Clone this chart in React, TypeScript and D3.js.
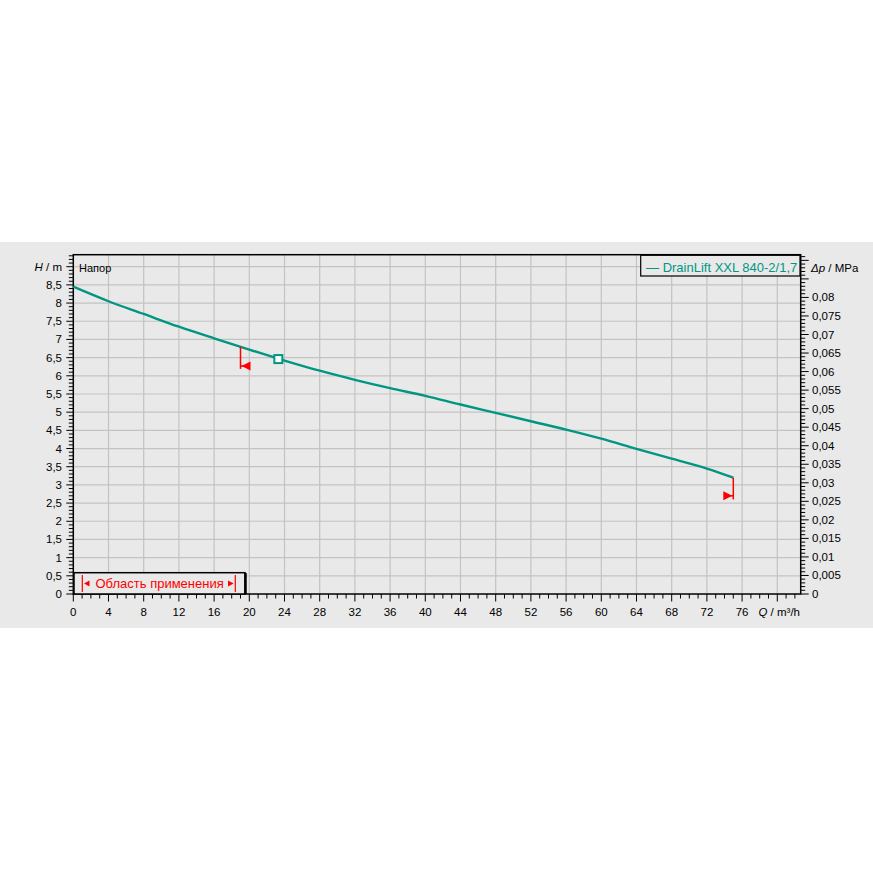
import * as React from "react";
import * as d3 from "d3";

// pump curve DrainLift XXL 840-2/1,7
const flowQ = [0, 4, 8, 12, 16, 20, 24, 28, 32, 36, 40, 44, 48, 52, 56, 60, 64, 68, 72, 75];
const headH = [8.45, 8.05, 7.7, 7.35, 7.03, 6.72, 6.42, 6.14, 5.89, 5.66, 5.45, 5.21, 4.98, 4.75, 4.52, 4.27, 3.99, 3.72, 3.45, 3.2];

const dutyPoint = { q: 23.3, h: 6.46 };
const limitLeft = { q: 19, hLow: 6.19, hArrow: 6.27 };
const limitRight = { q: 75, hLow: 2.6, hArrow: 2.7 };

const xMajor = d3.range(0, 81, 4);
const xMinor = d3.range(0, 83, 1);
const hMajor = d3.range(0, 8.51, 0.5);
const hMinor = d3.range(0, 9.31, 0.1);
const hGrid = d3.range(0.5, 9.01, 0.5);
const pMajor = d3.range(0, 0.0801, 0.005);
const pMinor = d3.range(0, 0.0911, 0.001);

const seriesName = "DrainLift XXL 840-2/1,7";
const rangeLabel = "Область применения";
const headTitle = "Напор";

const TEAL = "#009682";
const GRID = "#c3c3c3";
const BG = "#e9e9e9";
const FONT = "'Liberation Sans', Arial, sans-serif";

const fmt = (v: number, digits: number) => {
  const s = (+v.toFixed(digits)).toString();
  return s.replace(".", ",");
};

export default function App() {
  const left = 73.3, right = 800.7, top = 254.7, bottom = 594;
  const x = d3.scaleLinear().domain([0, 82.66]).range([left, right]);
  const y = d3.scaleLinear().domain([0, 9.33]).range([bottom, top]);
  const yP = (p: number) => y(p / 0.00981);

  const pts = flowQ.map((q, i) => [q, headH[i]] as [number, number]);
  const line = d3.line<[number, number]>().x(d => x(d[0])).y(d => y(d[1])).curve(d3.curveMonotoneX);

  const hAt = (q: number) => {
    const i = d3.bisectLeft(flowQ, q);
    if (i <= 0) return headH[0];
    const t = (q - flowQ[i - 1]) / (flowQ[i] - flowQ[i - 1]);
    return headH[i - 1] + t * (headH[i] - headH[i - 1]);
  };

  const lx = x(limitLeft.q);
  const rx = x(limitRight.q);
  const lay = y(limitLeft.hArrow);
  const ray = y(limitRight.hArrow);

  return (
    <svg width={873} height={873} style={{ position: "absolute", left: 0, top: 0, background: "#fff" }} fontFamily={FONT}>
      <rect x={0} y={242} width={873} height={386} fill={BG} />

      {/* grid */}
      <g stroke={GRID} strokeWidth={1.2}>
        {xMajor.filter(d => d > 0).map(d => (
          <line key={"gx" + d} x1={x(d)} x2={x(d)} y1={top} y2={bottom} />
        ))}
        {hGrid.map(d => (
          <line key={"gy" + d} x1={left} x2={right} y1={y(d)} y2={y(d)} />
        ))}
      </g>

      {/* frame */}
      <rect x={left} y={top} width={right - left} height={bottom - top} fill="none" stroke="#000" strokeWidth={1.5} />

      {/* left axis */}
      <g stroke="#000" strokeWidth={1}>
        {hMinor.map(d => {
          const major = Math.abs(d * 2 - Math.round(d * 2)) < 1e-6;
          return <line key={"hl" + d} x1={left - (major ? 7 : 4.5)} x2={left} y1={y(d)} y2={y(d)} />;
        })}
      </g>
      <g fontSize={11.5} textAnchor="end" fill="#000">
        {hMajor.map(d => (
          <text key={"ht" + d} x={62} y={y(d) + 4}>{fmt(d, 1)}</text>
        ))}
        <text x={62} y={y(9) + 4}>
          <tspan fontStyle="italic">H</tspan> / m
        </text>
      </g>
      <text x={79} y={272} fontSize={11} fill="#000">{headTitle}</text>

      {/* right axis */}
      <g stroke="#000" strokeWidth={1}>
        {pMinor.map(d => {
          const major = Math.abs(d * 200 - Math.round(d * 200)) < 1e-6;
          return <line key={"pl" + d} x1={right} x2={right + (major ? 8 : 4.5)} y1={yP(d)} y2={yP(d)} />;
        })}
      </g>
      <g fontSize={11.5} textAnchor="start" fill="#000">
        {pMajor.map(d => (
          <text key={"pt" + d} x={812} y={yP(d) + 4}>{fmt(d, 3)}</text>
        ))}
        <text x={811} y={272}>
          <tspan fontStyle="italic">Δp</tspan> / MPa
        </text>
      </g>

      {/* bottom axis */}
      <g stroke="#000" strokeWidth={1}>
        {xMinor.map(d => (
          <line key={"xl" + d} x1={x(d)} x2={x(d)} y1={bottom} y2={bottom + (d % 4 === 0 ? 7.5 : 4.5)} />
        ))}
      </g>
      <g fontSize={11.5} textAnchor="middle" fill="#000">
        {xMajor.filter(d => d < 80).map(d => (
          <text key={"xt" + d} x={x(d)} y={616}>{d}</text>
        ))}
        <text x={800} y={616} textAnchor="end">
          <tspan fontStyle="italic">Q</tspan> / m³/h
        </text>
      </g>

      {/* curve */}
      <path d={line(pts) || ""} fill="none" stroke={TEAL} strokeWidth={2.4} />

      {/* range limits */}
      <g fill="#ff0000" stroke="#ff0000">
        <line x1={lx} x2={lx} y1={y(hAt(limitLeft.q))} y2={y(limitLeft.hLow)} strokeWidth={1.5} />
        <line x1={lx} x2={lx + 4} y1={lay} y2={lay} strokeWidth={1.5} />
        <path d={`M${lx + 1},${lay} L${lx + 10},${lay - 4.5} L${lx + 10},${lay + 4.5} Z`} stroke="none" />
        <line x1={rx} x2={rx} y1={y(hAt(limitRight.q))} y2={y(limitRight.hLow)} strokeWidth={1.5} />
        <line x1={rx - 4} x2={rx} y1={ray} y2={ray} strokeWidth={1.5} />
        <path d={`M${rx - 1},${ray} L${rx - 10},${ray - 4.5} L${rx - 10},${ray + 4.5} Z`} stroke="none" />
      </g>

      {/* duty point */}
      <rect x={x(dutyPoint.q) - 4} y={y(dutyPoint.h) - 4} width={8} height={8} fill="#fff" stroke={TEAL} strokeWidth={2} />

      {/* legend top right */}
      <rect x={640.7} y={255.3} width={800 - 640.7} height={20.7} fill={BG} stroke="#000" strokeWidth={1.2} />
      <text x={646} y={271.5} fontSize={13} fill={TEAL}>— {seriesName}</text>

      {/* application range box */}
      <rect x={74} y={572.7} width={171} height={21.3} fill={BG} stroke="#000" strokeWidth={1.5} />
      <line x1={245.5} x2={245.5} y1={573} y2={594} stroke="#000" strokeWidth={2.5} />
      <g fill="#ff0000" stroke="#ff0000">
        <line x1={82.3} x2={82.3} y1={575} y2={592} strokeWidth={1.2} />
        <path d="M84,583.5 L89.5,580.5 L89.5,586.5 Z" stroke="none" />
        <line x1={235.3} x2={235.3} y1={575} y2={592} strokeWidth={1.2} />
        <path d="M233.6,583.5 L228,580.5 L228,586.5 Z" stroke="none" />
      </g>
      <text x={95.5} y={588} fontSize={13} fill="#ff0000">{rangeLabel}</text>
    </svg>
  );
}
